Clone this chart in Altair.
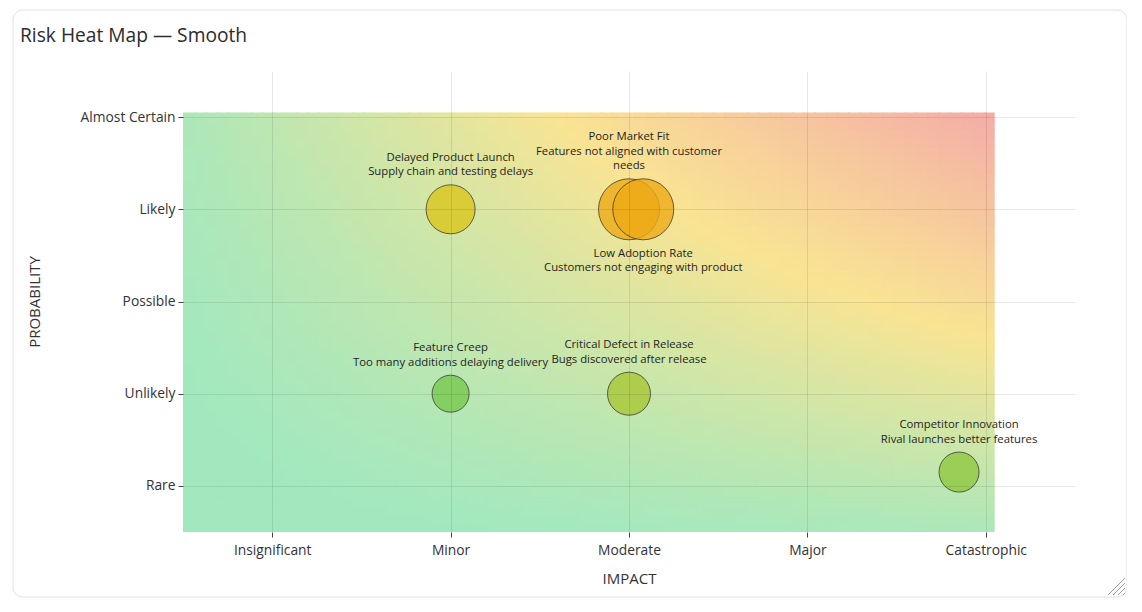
import altair as alt
import pandas as pd

# ---- data ----
impact_levels = ["Insignificant", "Minor", "Moderate", "Major", "Catastrophic"]
probability_levels = ["Rare", "Unlikely", "Possible", "Likely", "Almost Certain"]

risk_names = ["Delayed Product Launch", "Poor Market Fit", "Low Adoption Rate",
              "Feature Creep", "Critical Defect in Release", "Competitor Innovation"]
risk_descs = ["Supply chain and testing delays",
              "Features not aligned with customer\nneeds",
              "Customers not engaging with product",
              "Too many additions delaying delivery",
              "Bugs discovered after release",
              "Rival launches better features"]
risk_impact = [2, 3, 3, 2, 3, 5]
risk_probability = [4, 4, 4, 2, 2, 1]
plot_x = [2, 3, 3.08, 2, 3, 4.85]
plot_y = [4, 4, 4, 2, 2, 1.15]
label_side = ["above", "above", "below", "above", "above", "above"]

# colour scales (risk score 1..25)
bubble_domain = [1, 9, 17, 25]
bubble_colors = ["#2ecc71", "#f1c40f", "#e67e22", "#e74c3c"]
heat_domain = [1, 13, 25]
heat_colors = ["#a1e8bf", "#f9e493", "#f4aea7"]  # green / yellow / red at 45% on white

heat_min, heat_max = 0.5, 5.05
NX, NY = 72, 48

df = pd.DataFrame({
    "name": risk_names, "desc": risk_descs, "impact": risk_impact,
    "prob": risk_probability, "x": plot_x, "y": plot_y, "side": label_side,
})
df["label"] = df["name"] + "\n" + df["desc"]

W, H = 892, 461
LINE_H = 14.5
xscale = alt.Scale(domain=[0.5, 5.5], nice=False, zero=False)
yscale = alt.Scale(domain=[0.5, 5.5], nice=False, zero=False)

def lab_expr(levels):
    arr = "[" + ",".join("'" + s + "'" for s in levels) + "]"
    return f"{arr}[datum.value - 1]"

common_axis = dict(values=[1, 2, 3, 4, 5], grid=True, gridColor="#000000", gridOpacity=0.09,
                   domain=False, ticks=True, tickColor="#444444", tickSize=5, tickWidth=1,
                   labelFontSize=13.8, labelColor="#333333", labelFont="Open Sans",
                   titleFont="Open Sans", titleFontSize=15, titleColor="#333333",
                   titleFontWeight="normal", zindex=1)
x_axis = alt.Axis(labelExpr=lab_expr(impact_levels), labelPadding=6,
                  titleX=W / 2, titleY=46, titleBaseline="middle", **common_axis)
y_axis = alt.Axis(labelExpr=lab_expr(probability_levels), labelPadding=3,
                  titleX=-149, titleY=H / 2, titleBaseline="middle", titleAngle=-90,
                  **common_axis)

# ---- card frame and resize handle (decoration) ----
one = pd.DataFrame({"k": [0]})
card = alt.Chart(one).mark_rect(
    filled=False, stroke="#e2e2e2", strokeWidth=1, cornerRadius=10
).encode(x=alt.value(-170), x2=alt.value(944), y=alt.value(-61), y2=alt.value(526))
handle = [
    alt.Chart(one).mark_rule(color="#9a9a9a", strokeWidth=1).encode(
        x=alt.value(x0), x2=alt.value(942), y=alt.value(524), y2=alt.value(y1))
    for x0, y1 in [(925, 507), (930, 512), (935, 517), (940, 522)]
]

# ---- smooth heat map background (score = impact x probability) ----
dx = (heat_max - heat_min) / NX
dy = (heat_max - heat_min) / NY
heat = alt.Chart(alt.sequence(0, NX, as_="i")).transform_calculate(
    j=f"sequence(0, {NY})"
).transform_flatten(["j"]).transform_calculate(
    x0=f"{heat_min} + datum.i * {dx}",
    x1=f"min({heat_min} + (datum.i + 1.15) * {dx}, {heat_max})",
    y0=f"{heat_min} + datum.j * {dy}",
    y1=f"min({heat_min} + (datum.j + 1.15) * {dy}, {heat_max})",
    score=f"({heat_min} + (datum.i + 0.5) * {dx}) * ({heat_min} + (datum.j + 0.5) * {dy})",
).mark_rect(strokeWidth=0).encode(
    x=alt.X("x0:Q", scale=xscale, axis=x_axis, title="IMPACT"),
    x2="x1:Q",
    y=alt.Y("y0:Q", scale=yscale, axis=y_axis, title="PROBABILITY"),
    y2="y1:Q",
    color=alt.Color("score:Q", legend=None,
                    scale=alt.Scale(domain=heat_domain, range=heat_colors,
                                    interpolate="rgb", clamp=True)),
)

# ---- risk bubbles (diameter = 25 + 3 * score; Vega symbol size = diameter^2) ----
bubbles = alt.Chart(df).transform_calculate(
    score="datum.impact * datum.prob",
    sz="pow(25 + 3 * datum.impact * datum.prob, 2)",
).mark_circle(fillOpacity=0.8, stroke="#333333", strokeOpacity=0.75, strokeWidth=1).encode(
    x=alt.X("x:Q", title="IMPACT"),
    y=alt.Y("y:Q", title="PROBABILITY"),
    fill=alt.Fill("score:Q", legend=None,
                  scale=alt.Scale(domain=bubble_domain, range=bubble_colors,
                                  interpolate="rgb", clamp=True)),
    size=alt.Size("sz:Q", scale=None),
)

# ---- labels: one text layer per risk, offset by its bubble radius ----
label_layers = []
for name, desc, imp, prob, side in zip(risk_names, risk_descs, risk_impact,
                                        risk_probability, label_side):
    half = (25 + 3 * imp * prob) / 2
    n_lines = 1 + desc.count("\n") + 1
    if side == "above":
        props = dict(baseline="bottom", dy=-(half + 7.5) - (n_lines - 1) * LINE_H)
    else:
        props = dict(baseline="top", dy=half + 8)
    label_layers.append(
        alt.Chart(df).transform_filter(alt.datum.name == name).mark_text(
            lineBreak="\n", align="center", fontSize=11.3, lineHeight=LINE_H,
            font="Open Sans", color="#1e1e1e", **props
        ).encode(x=alt.X("x:Q", title="IMPACT"), y=alt.Y("y:Q", title="PROBABILITY"),
                 text="label:N")
    )

chart = alt.layer(card, *handle, heat, bubbles, *label_layers).resolve_scale(
    color="independent"
).properties(
    width=W, height=H,
    padding={"left": 175, "top": 63, "right": 52, "bottom": 66},
    autosize=alt.AutoSizeParams(type="none"),
    title=alt.Title("Risk Heat Map — Smooth", anchor="start", frame="group", dx=-163,
                    offset=-37, fontSize=19.2, font="Open Sans", fontWeight="normal",
                    color="#2b2b2b"),
).configure(font="Open Sans", background="white").configure_view(
    stroke="transparent", strokeWidth=0
)

chart.save("out.html", embed_options={"renderer": "svg", "actions": False})
